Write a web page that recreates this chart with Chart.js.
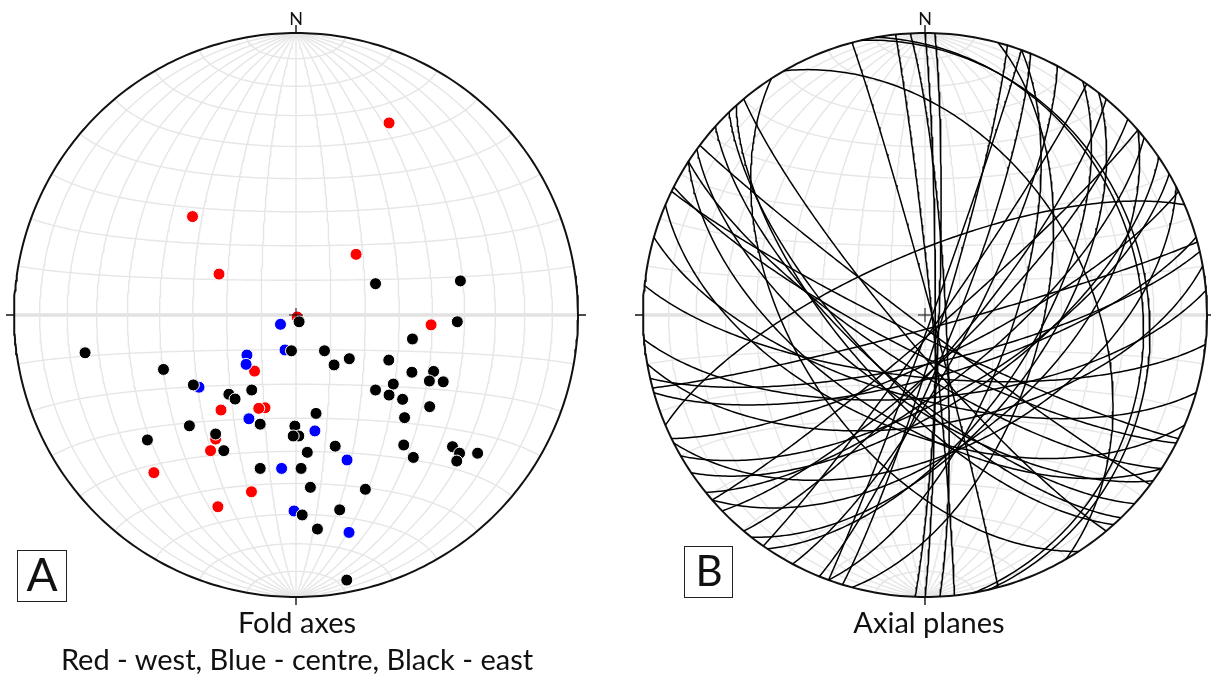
<!DOCTYPE html>
<html>
<head>
<meta charset="utf-8">
<script src="https://cdn.jsdelivr.net/npm/chart.js@4.4.0/dist/chart.umd.min.js"></script>
<style>
  body { margin: 0; background: #fff; width: 1211px; height: 678px; position: relative; overflow: hidden; font-family: Lato, "Open Sans", sans-serif; color: #111; }
  canvas { position: absolute; top: 0; }
  .lbl { position: absolute; white-space: nowrap; line-height: 1; transform: translateX(-50%); }
  .box { position: absolute; box-sizing: border-box; border: 1.5px solid #222; }
</style>
</head>
<body>
<canvas id="foldAxes" width="605" height="678" style="left:0"></canvas>
<canvas id="axialPlanes" width="606" height="678" style="left:605px"></canvas>

<div class="lbl" style="left:296px; top:9px; font-size:18px">N</div>
<div class="lbl" style="left:925px; top:9px; font-size:18px">N</div>
<div class="lbl" style="left:297px; top:607px; font-size:29px">Fold axes</div>
<div class="lbl" style="left:297px; top:644px; font-size:29px">Red - west, Blue - centre, Black - east</div>
<div class="lbl" style="left:929px; top:607px; font-size:29px">Axial planes</div>
<div class="box" style="left:17px; top:550px; width:50px; height:52px"></div>
<div class="lbl" style="left:42px; top:551px; font-size:46px">A</div>
<div class="box" style="left:684px; top:546px; width:49px; height:52px"></div>
<div class="lbl" style="left:709px; top:549px; font-size:42px">B</div>

<script>
const westAxes = [
  [0.330, 0.681], [-0.367, 0.349], [-0.273, 0.145], [0.213, 0.215], [0.479, -0.035],
  [0.004, -0.007], [-0.147, -0.199], [-0.266, -0.337], [-0.110, -0.329], [-0.132, -0.331],
  [-0.303, -0.481], [-0.285, -0.440], [-0.504, -0.559], [-0.158, -0.627], [-0.277, -0.680]
];
const centreAxes = [
  [-0.055, -0.033], [-0.039, -0.124], [-0.174, -0.142], [-0.177, -0.175], [-0.344, -0.256],
  [-0.167, -0.368], [0.067, -0.411], [0.181, -0.514], [-0.051, -0.544], [-0.007, -0.695],
  [0.188, -0.771]
];
const eastAxes = [
  [0.282, 0.111], [0.583, 0.121], [0.572, -0.024], [0.011, -0.024], [0.413, -0.085],
  [-0.748, -0.134], [-0.470, -0.193], [-0.364, -0.248], [-0.016, -0.127], [0.101, -0.127],
  [0.135, -0.177], [0.189, -0.155], [0.329, -0.160], [0.411, -0.203], [0.488, -0.200],
  [0.473, -0.234], [0.522, -0.237], [0.345, -0.245], [0.282, -0.266], [0.330, -0.284],
  [0.378, -0.299], [0.474, -0.325], [0.385, -0.364], [-0.238, -0.281], [-0.216, -0.298],
  [-0.157, -0.266], [-0.127, -0.387], [-0.378, -0.393], [-0.527, -0.443], [-0.285, -0.422],
  [-0.256, -0.481], [0.071, -0.349], [-0.004, -0.394], [0.010, -0.429], [-0.010, -0.429],
  [0.139, -0.465], [0.040, -0.487], [0.382, -0.461], [0.416, -0.505], [0.555, -0.467],
  [0.580, -0.490], [0.570, -0.518], [0.644, -0.490], [-0.127, -0.544], [0.018, -0.544],
  [0.051, -0.611], [0.246, -0.618], [0.155, -0.691], [0.022, -0.709], [0.076, -0.759],
  [0.180, -0.940]
];

// axial planes: dip direction and dip, degrees
const planeDipDir = [186, 175, 167, 165, 164, 154, 337, 153, 150, 139,
                     139, 136, 141, 130, 128, 125, 124, 112, 110, 107,
                     105, 92, 90, 87, 84, 77, 80, 75, 60, 237,
                     230, 228, 226, 217, 216, 213, 207, 203, 196, 206,
                     110, 213, 222, 146, 118, 170];
const planeDip = [72, 66, 76, 86, 72, 77, 72, 50, 66, 85,
                  53, 77, 70, 78, 56, 86, 59, 81, 65, 85,
                  56, 86, 87, 84, 88, 22, 24, 88, 42, 52,
                  82, 67, 70, 87, 66, 59, 79, 56, 66, 84,
                  88, 75, 70, 64, 77, 58];

const gridStep = 10;
const rad = Math.PI / 180;

// lower hemisphere equal-area (Schmidt) projection of a unit vector
function project(n, e, d) {
  const k = 1 / Math.sqrt(1 + d);
  return { x: e * k, y: n * k };
}

function gridDatasets() {
  const sets = [];
  const style = { borderColor: '#e6e6e6', borderWidth: 1.4 };
  for (let lon = -90 + gridStep; lon < 90; lon += gridStep) {
    const pts = [];
    for (let lat = -90; lat <= 90; lat += 1) {
      const p = lat * rad, l = lon * rad;
      pts.push(project(Math.sin(p), Math.cos(p) * Math.sin(l), Math.cos(p) * Math.cos(l)));
    }
    sets.push({ data: pts, ...style });
  }
  for (let lat = -90 + gridStep; lat < 90; lat += gridStep) {
    const pts = [];
    for (let lon = -90; lon <= 90; lon += 1) {
      const p = lat * rad, l = lon * rad;
      pts.push(project(Math.sin(p), Math.cos(p) * Math.sin(l), Math.cos(p) * Math.cos(l)));
    }
    sets.push({ data: pts, ...style, borderColor: lat === 0 ? '#e2e2e2' : '#e6e6e6', borderWidth: lat === 0 ? 3.5 : 1.4 });
  }
  return sets.map(s => ({ ...s, showLine: true, pointRadius: 0, order: 10, clip: false }));
}

function primitive() {
  const pts = [];
  for (let a = 0; a <= 360; a += 1) pts.push({ x: Math.sin(a * rad), y: Math.cos(a * rad) });
  return { data: pts, showLine: true, pointRadius: 0, borderColor: '#111', borderWidth: 2, order: 5, clip: false };
}

function greatCircle(dipDir, dip) {
  const s = (dipDir - 90) * rad, dd = dipDir * rad, d = dip * rad;
  const sv = [Math.cos(s), Math.sin(s), 0];
  const dv = [Math.cos(d) * Math.cos(dd), Math.cos(d) * Math.sin(dd), Math.sin(d)];
  const pts = [];
  for (let t = 0; t <= 180; t += 1) {
    const c = Math.cos(t * rad), sn = Math.sin(t * rad);
    pts.push(project(c * sv[0] + sn * dv[0], c * sv[1] + sn * dv[1], Math.max(0, c * sv[2] + sn * dv[2])));
  }
  return pts;
}

const netDecor = {
  id: 'netDecor',
  afterDatasetsDraw(chart) {
    const { ctx, scales: { x, y } } = chart;
    const cx = x.getPixelForValue(0), cy = y.getPixelForValue(0);
    const r = x.getPixelForValue(1) - cx;
    ctx.save();
    ctx.strokeStyle = '#111';
    ctx.lineWidth = 1.4;
    ctx.beginPath();
    ctx.moveTo(cx, cy - r); ctx.lineTo(cx, cy - r - 8);
    ctx.moveTo(cx, cy + r); ctx.lineTo(cx, cy + r + 8);
    ctx.moveTo(cx - r, cy); ctx.lineTo(cx - r - 8, cy);
    ctx.moveTo(cx + r, cy); ctx.lineTo(cx + r + 8, cy);
    ctx.stroke();
    ctx.lineWidth = 1;
    ctx.beginPath();
    ctx.moveTo(cx - 7, cy); ctx.lineTo(cx + 7, cy);
    ctx.moveTo(cx, cy - 7); ctx.lineTo(cx, cy + 7);
    ctx.stroke();
    ctx.restore();
  }
};

function netOptions(padding) {
  return {
    responsive: false,
    animation: false,
    layout: { padding: padding },
    plugins: { legend: { display: false }, tooltip: { enabled: false } },
    scales: {
      x: { type: 'linear', min: -1, max: 1, display: false },
      y: { type: 'linear', min: -1, max: 1, display: false }
    }
  };
}

function dots(list, color, order) {
  return {
    data: list.map(p => ({ x: p[0], y: p[1] })),
    pointRadius: 6,
    pointBackgroundColor: color,
    pointBorderColor: '#fff',
    pointBorderWidth: 1,
    showLine: false,
    order: order,
    clip: false
  };
}

new Chart(document.getElementById('foldAxes'), {
  type: 'scatter',
  data: {
    datasets: [
      dots(eastAxes, '#000', 1),
      dots(centreAxes, '#0000ff', 2),
      dots(westAxes, '#ff0000', 3),
      primitive(),
      ...gridDatasets()
    ]
  },
  options: netOptions({ left: 14, right: 27, top: 33, bottom: 81 }),
  plugins: [netDecor]
});

const planeSets = planeDipDir.map((dd, i) => ({
  data: greatCircle(dd, planeDip[i]),
  showLine: true,
  pointRadius: 0,
  borderColor: '#000',
  borderWidth: 1.5,
  order: 1,
  clip: false
}));

new Chart(document.getElementById('axialPlanes'), {
  type: 'scatter',
  data: { datasets: [...planeSets, primitive(), ...gridDatasets()] },
  options: netOptions({ left: 38, right: 4, top: 33, bottom: 81 }),
  plugins: [netDecor]
});
</script>
</body>
</html>
